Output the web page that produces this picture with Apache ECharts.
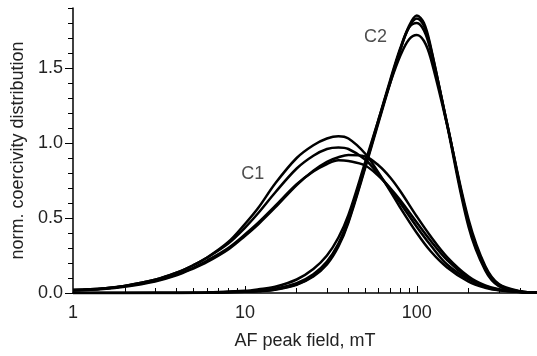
<!DOCTYPE html>
<html><head><meta charset="utf-8">
<script src="https://cdn.jsdelivr.net/npm/echarts@6/dist/echarts.min.js"></script>
<style>html,body{margin:0;padding:0;background:#fff}#c{width:537px;height:356px}</style>
</head><body><div id="c"></div>
<script>
// AF peak field (mT) sample points
const c1X = [1, 1.5, 2, 3, 4, 5, 6, 8, 10, 12, 15, 20, 25, 30, 35, 40, 50, 60, 70, 80, 100, 120, 150, 200, 250, 300, 400, 500];
const c1A = [0.02, 0.03, 0.047, 0.088, 0.135, 0.185, 0.235, 0.34, 0.46, 0.57, 0.73, 0.9, 0.985, 1.03, 1.045, 1.03, 0.93, 0.8, 0.68, 0.57, 0.4, 0.28, 0.17, 0.075, 0.035, 0.018, 0.006, 0.002];
const c1B = [0.02, 0.03, 0.047, 0.088, 0.135, 0.185, 0.235, 0.33, 0.435, 0.535, 0.67, 0.83, 0.915, 0.96, 0.97, 0.96, 0.89, 0.79, 0.69, 0.6, 0.44, 0.32, 0.19, 0.09, 0.04, 0.02, 0.006, 0.002];
const c1C = [0.016, 0.026, 0.041, 0.077, 0.118, 0.163, 0.205, 0.29, 0.38, 0.46, 0.57, 0.72, 0.815, 0.875, 0.905, 0.92, 0.91, 0.85, 0.77, 0.68, 0.51, 0.38, 0.24, 0.11, 0.05, 0.025, 0.008, 0.003];
const c1D = [0.02, 0.03, 0.046, 0.082, 0.123, 0.168, 0.215, 0.3, 0.39, 0.47, 0.58, 0.725, 0.81, 0.86, 0.885, 0.88, 0.85, 0.78, 0.7, 0.62, 0.47, 0.35, 0.22, 0.1, 0.045, 0.022, 0.007, 0.002];

const c2X = [1, 3, 6, 10, 12, 15, 20, 25, 30, 35, 40, 50, 60, 70, 80, 90, 100, 110, 120, 150, 200, 250, 300, 400, 500];
const c2A = [0, 0, 0.002, 0.008, 0.012, 0.022, 0.055, 0.11, 0.19, 0.31, 0.47, 0.83, 1.14, 1.4, 1.62, 1.78, 1.85, 1.8, 1.65, 1.12, 0.44, 0.15, 0.045, 0.008, 0.002];
const c2B = [0, 0, 0.002, 0.008, 0.013, 0.024, 0.058, 0.115, 0.2, 0.32, 0.48, 0.84, 1.15, 1.41, 1.62, 1.77, 1.83, 1.78, 1.64, 1.13, 0.46, 0.16, 0.05, 0.009, 0.002];
const c2C = [0, 0, 0.003, 0.01, 0.015, 0.028, 0.065, 0.125, 0.21, 0.33, 0.49, 0.85, 1.16, 1.42, 1.63, 1.77, 1.8, 1.75, 1.62, 1.13, 0.47, 0.17, 0.055, 0.01, 0.003];
const c2D = [0, 0.001, 0.004, 0.015, 0.025, 0.042, 0.09, 0.16, 0.25, 0.37, 0.52, 0.87, 1.16, 1.4, 1.58, 1.69, 1.72, 1.68, 1.57, 1.12, 0.49, 0.18, 0.06, 0.012, 0.003];

const xLabelValues = [1, 10, 100];
const xMajorTicks = [10, 100];
const xMinorTicks = [2, 3, 4, 5, 6, 7, 8, 9, 20, 30, 40, 50, 60, 70, 80, 90, 200, 300, 400, 500];
const yMajorTicks = [0, 0.5, 1.0, 1.5];
const yMinorTicks = [0.1, 0.2, 0.3, 0.4, 0.6, 0.7, 0.8, 0.9, 1.1, 1.2, 1.3, 1.4, 1.6, 1.7, 1.8, 1.9];

const groupNames = ['C1', 'C2'];
const groupLabelX = [11.1, 57.4];
const groupLabelY = [0.793, 1.704];

const FONT = 'Liberation Sans';
const zip = (xs, ys) => xs.map((x, i) => [x, ys[i]]);
const curves = [[c1X, c1A], [c1X, c1B], [c1X, c1C], [c1X, c1D], [c2X, c2A], [c2X, c2B], [c2X, c2C], [c2X, c2D]];

const series = curves.map(([xs, ys]) => ({
  type: 'line', xAxisIndex: 0, yAxisIndex: 0,
  data: zip(xs, ys), showSymbol: false, smooth: 0.35,
  lineStyle: { color: '#000', width: 2.5 }, silent: true
}));
series.push({
  type: 'scatter', xAxisIndex: 0, yAxisIndex: 0, symbolSize: 0,
  data: groupNames.map((n, i) => ({ name: n, value: [groupLabelX[i], groupLabelY[i]] })),
  label: { show: true, position: 'inside', formatter: '{b}', color: '#222', fontSize: 18, fontFamily: FONT },
  silent: true
});

const axisLine = { show: true, onZero: false, lineStyle: { color: '#000', width: 1.5 } };
const option = {
  animation: false,
  backgroundColor: '#fff',
  grid: { left: 73, right: 0, top: 8, bottom: 63, containLabel: false },
  xAxis: [
    {
      type: 'log', logBase: 10, min: 1, max: 500, position: 'bottom',
      axisLine: axisLine,
      axisTick: { show: true, inside: true, length: 7, customValues: xMajorTicks, lineStyle: { color: '#000', width: 1 } },
      axisLabel: { customValues: xLabelValues, color: '#222', fontSize: 18, fontFamily: FONT, margin: 11 },
      splitLine: { show: false }, minorTick: { show: false },
      name: 'AF peak field, mT', nameLocation: 'middle', nameGap: 39,
      nameTextStyle: { color: '#222', fontSize: 18, fontFamily: FONT }
    },
    {
      type: 'log', logBase: 10, min: 1, max: 500, position: 'bottom',
      axisLine: { show: false, onZero: false },
      axisTick: { show: true, inside: true, length: 5, customValues: xMinorTicks, lineStyle: { color: '#000', width: 1 } },
      axisLabel: { show: false }, splitLine: { show: false }
    }
  ],
  yAxis: [
    {
      type: 'value', min: 0, max: 1.9, position: 'left',
      axisLine: axisLine,
      axisTick: { show: true, inside: false, length: 8, customValues: yMajorTicks, lineStyle: { color: '#000', width: 1 } },
      axisLabel: { customValues: yMajorTicks, formatter: v => Number(v).toFixed(1), color: '#222', fontSize: 18, fontFamily: FONT, margin: 10 },
      splitLine: { show: false },
      name: 'norm. coercivity distribution', nameLocation: 'middle', nameGap: 45,
      nameTextStyle: { color: '#222', fontSize: 18, fontFamily: FONT }
    },
    {
      type: 'value', min: 0, max: 1.9, position: 'left',
      axisLine: { show: false, onZero: false },
      axisTick: { show: true, inside: false, length: 5, customValues: yMinorTicks, lineStyle: { color: '#000', width: 1 } },
      axisLabel: { show: false }, splitLine: { show: false }
    }
  ],
  series: series
};
const chart = echarts.init(document.getElementById('c'), null, { renderer: 'canvas' });
chart.setOption(option);
</script>
</body></html>
